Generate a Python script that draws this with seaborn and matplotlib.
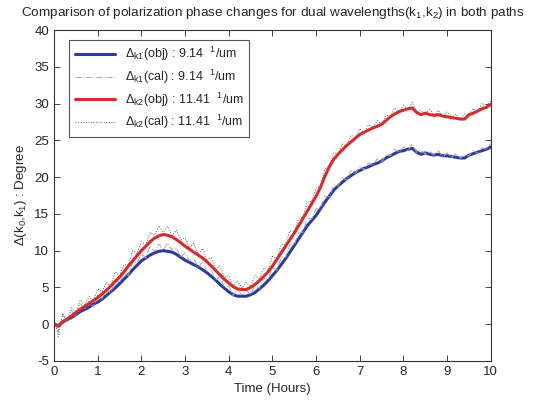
import numpy as np
import pandas as pd
import matplotlib
matplotlib.use('Agg')
import matplotlib.pyplot as plt
import seaborn as sns

# time axis (hours), 0.1 h steps
hours = [round(0.1 * i, 1) for i in range(101)]

# k1 object path (deg)
k1_obj = [0.0, -0.2, 0.3, 0.6, 0.9, 1.3, 1.7, 2.0, 2.3, 2.7,
          3.0, 3.4, 3.9, 4.4, 4.9, 5.5, 6.1, 6.7, 7.4, 8.0,
          8.6, 9.0, 9.4, 9.7, 9.9, 10.0, 9.9, 9.8, 9.5, 9.1,
          8.7, 8.4, 8.1, 7.8, 7.4, 7.0, 6.5, 6.0, 5.4, 4.9,
          4.4, 4.0, 3.8, 3.8, 3.8, 4.0, 4.3, 4.8, 5.3, 5.9,
          6.6, 7.3, 8.1, 8.9, 9.8, 10.7, 11.6, 12.5, 13.4, 14.1,
          14.8, 15.7, 16.6, 17.4, 18.2, 18.8, 19.3, 19.8, 20.2, 20.6,
          20.9, 21.2, 21.4, 21.7, 21.9, 22.2, 22.6, 22.9, 23.2, 23.5,
          23.6, 23.8, 23.9, 23.4, 23.1, 23.3, 23.1, 23.0, 23.1, 22.9,
          22.9, 22.8, 22.7, 22.6, 22.6, 23.0, 23.2, 23.4, 23.6, 23.8,
          24.1]

# k2 object path (deg)
k2_obj = [0.0, -0.3, 0.3, 0.7, 1.1, 1.6, 2.0, 2.4, 2.8, 3.2,
          3.6, 4.1, 4.6, 5.2, 5.8, 6.4, 7.1, 7.9, 8.6, 9.3,
          10.0, 10.6, 11.2, 11.7, 12.0, 12.2, 12.1, 11.9, 11.5, 11.1,
          10.6, 10.2, 9.8, 9.4, 9.0, 8.5, 7.9, 7.3, 6.7, 6.1,
          5.6, 5.1, 4.8, 4.7, 4.7, 5.0, 5.4, 5.9, 6.5, 7.1,
          7.9, 8.8, 9.7, 10.6, 11.5, 12.4, 13.4, 14.4, 15.4, 16.4,
          17.4, 18.6, 20.1, 21.4, 22.4, 23.1, 23.7, 24.3, 24.8, 25.3,
          25.8, 26.1, 26.4, 26.7, 26.9, 27.2, 27.7, 28.2, 28.6, 28.9,
          29.1, 29.3, 29.4, 28.8, 28.5, 28.7, 28.5, 28.4, 28.5, 28.3,
          28.2, 28.1, 28.0, 27.9, 27.9, 28.5, 28.7, 29.0, 29.3, 29.5,
          29.9]

# calibration path deviations from the object path (deg), read as spread of the gray trace
k1_cal_dev = [0.6, -0.9, 1.0, -0.3, 0.9, -0.2, 1.1, 0.0, 0.8, -0.4,
              1.0, 0.1, 0.9, -0.2, 1.2, 0.2, 0.8, -0.1, 1.1, 0.3,
              0.9, 0.0, 1.2, 0.2, 1.0, 0.1, 1.1, 0.3, 0.9, 0.0,
              1.0, 0.2, 0.8, -0.1, 1.0, 0.2, 0.9, 0.0, 1.1, 0.1,
              0.8, -0.1, 0.9, 0.2, 0.8, 0.0, 1.0, 0.1, 0.9, 0.2,
              1.1, 0.0, 0.9, 0.2, 1.0, 0.1, 0.8, 0.0, 1.0, 0.2,
              0.9, 0.1, 0.8, -0.1, 0.7, 0.0, 0.6, -0.2, 0.7, -0.1,
              0.6, -0.2, 0.5, -0.1, 0.6, -0.2, 0.5, 0.0, 0.6, -0.1,
              0.5, -0.2, 0.6, 0.0, 0.5, -0.1, 0.4, 0.0, 0.5, -0.2,
              0.4, -0.1, 0.5, 0.0, 0.4, -0.1, 0.5, -0.2, 0.4, 0.0,
              0.5]

k2_cal_dev = [0.8, -1.4, 1.2, -0.2, 1.1, 0.0, 1.3, 0.2, 1.0, -0.1,
              1.2, 0.3, 1.1, 0.0, 1.3, 0.2, 1.0, 0.1, 1.4, 0.3,
              1.2, 0.2, 1.3, 0.4, 1.4, 0.3, 1.2, 0.2, 1.3, 0.4,
              1.1, 0.2, 1.2, 0.1, 1.3, 0.3, 1.1, 0.1, 1.2, 0.3,
              1.0, 0.0, 1.1, 0.2, 1.0, 0.1, 1.2, 0.3, 1.1, 0.2,
              1.3, 0.1, 1.1, 0.3, 1.2, 0.2, 1.0, 0.1, 1.2, 0.3,
              1.1, 0.2, 1.0, 0.0, 0.9, 0.1, 0.8, -0.1, 0.9, 0.0,
              0.8, -0.1, 0.7, 0.0, 0.8, -0.1, 0.7, 0.1, 0.8, 0.0,
              0.7, -0.2, 0.8, 0.0, 0.6, -0.1, 0.7, 0.0, 0.6, -0.1,
              0.7, 0.0, 0.6, -0.1, 0.7, 0.0, 0.6, -0.1, 0.7, 0.0,
              0.6]

labels = [r'$\Delta_{\mathrm{k1}}$(obj) : 9.14  $^{1}$/um',
          r'$\Delta_{\mathrm{k1}}$(cal) : 9.14  $^{1}$/um',
          r'$\Delta_{\mathrm{k2}}$(obj) : 11.41  $^{1}$/um',
          r'$\Delta_{\mathrm{k2}}$(cal) : 11.41  $^{1}$/um']

sns.set_style('ticks')
plt.rcParams['font.family'] = ['Liberation Sans', 'DejaVu Sans']
plt.rcParams['mathtext.fontset'] = 'custom'
plt.rcParams['mathtext.rm'] = 'Liberation Sans'
plt.rcParams['mathtext.it'] = 'Liberation Sans:italic'
plt.rcParams['mathtext.bf'] = 'Liberation Sans:bold'
plt.rcParams['axes.unicode_minus'] = False

df = pd.DataFrame({'t': hours,
                   'k1_obj': k1_obj,
                   'k1_cal': np.array(k1_obj) + np.array(k1_cal_dev),
                   'k2_obj': k2_obj,
                   'k2_cal': np.array(k2_obj) + np.array(k2_cal_dev)})

fig, ax = plt.subplots(figsize=(5.4, 4.01), dpi=100)
fig.subplots_adjust(left=0.1, right=0.909, top=0.925, bottom=0.1)

sns.lineplot(data=df, x='t', y='k1_obj', ax=ax, color='#2b3c9e', lw=2.2, label=labels[0])
sns.lineplot(data=df, x='t', y='k1_cal', ax=ax, color='#a8a8a8', lw=0.7, ls='-.', label=labels[1])
sns.lineplot(data=df, x='t', y='k2_obj', ax=ax, color='#dc2a2a', lw=2.2, label=labels[2])
sns.lineplot(data=df, x='t', y='k2_cal', ax=ax, color='#606060', lw=0.7, ls=':', label=labels[3])

ax.set_xlim(0, 10)
ax.set_ylim(-5, 40)
ax.set_xticks(range(0, 11))
ax.set_yticks(range(-5, 41, 5))
ax.tick_params(direction='in', top=True, right=True, labelsize=9.5, length=4, width=0.6)
for s in ax.spines.values():
    s.set_linewidth(0.8)
    s.set_color('#333333')

ax.set_xlabel('Time (Hours)', fontsize=9.5)
ax.set_ylabel(r'$\Delta$(k$_0$,k$_1$) : Degree', fontsize=9.5)
ax.set_title(r'Comparison of polarization phase changes for dual wavelengths(k$_1$,k$_2$) in both paths',
             fontsize=9.7, pad=10)

leg = ax.legend(loc='upper left', bbox_to_anchor=(0.02, 0.99), fontsize=9, handlelength=3.2,
                fancybox=False, edgecolor='#555555', borderpad=0.45, labelspacing=0.35,
                framealpha=1)
leg.get_frame().set_linewidth(0.8)

plt.savefig('out.png', dpi=100)
